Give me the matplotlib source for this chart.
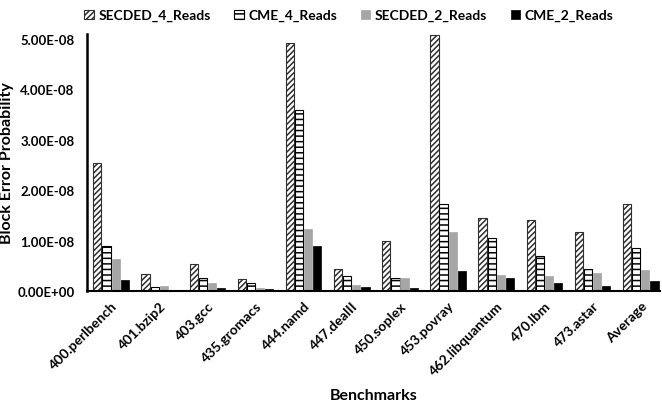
import matplotlib
matplotlib.use("Agg")
import matplotlib.pyplot as plt
import numpy as np
from matplotlib.ticker import FuncFormatter

plt.rcParams['font.family'] = ['Lato', 'DejaVu Sans']
plt.rcParams['font.weight'] = 'bold'
plt.rcParams['hatch.linewidth'] = 1.1

categories = ["400.perlbench", "401.bzip2", "403.gcc", "435.gromacs", "444.namd",
              "447.dealII", "450.soplex", "453.povray", "462.libquantum", "470.lbm",
              "473.astar", "Average"]
secded_4 = [2.54e-8, 0.34e-8, 0.53e-8, 0.24e-8, 4.92e-8, 0.44e-8, 0.99e-8, 5.08e-8, 1.45e-8, 1.41e-8, 1.17e-8, 1.73e-8]
cme_4    = [0.89e-8, 0.08e-8, 0.25e-8, 0.15e-8, 3.60e-8, 0.29e-8, 0.25e-8, 1.72e-8, 1.06e-8, 0.70e-8, 0.44e-8, 0.85e-8]
secded_2 = [0.63e-8, 0.10e-8, 0.15e-8, 0.05e-8, 1.23e-8, 0.12e-8, 0.25e-8, 1.17e-8, 0.32e-8, 0.30e-8, 0.36e-8, 0.42e-8]
cme_2    = [0.22e-8, 0.01e-8, 0.06e-8, 0.03e-8, 0.90e-8, 0.08e-8, 0.06e-8, 0.40e-8, 0.25e-8, 0.15e-8, 0.10e-8, 0.20e-8]
series_names = ["SECDED_4_Reads", "CME_4_Reads", "SECDED_2_Reads", "CME_2_Reads"]

fig = plt.figure(figsize=(6.62, 4.02), dpi=100)
ax = fig.add_axes([87/662, 1 - 292/402, 573/662, 257/402])

x = np.arange(len(categories))
w = 0.17
styles = [
    dict(facecolor='white', edgecolor='#303030', hatch='//////', linewidth=0.8),
    dict(facecolor='white', edgecolor='black', hatch='---', linewidth=0.8),
    dict(facecolor='#A6A6A6', edgecolor='#A6A6A6', linewidth=0.5),
    dict(facecolor='black', edgecolor='black', linewidth=0.5),
]
data = [secded_4, cme_4, secded_2, cme_2]
for i, (vals, st, name) in enumerate(zip(data, styles, series_names)):
    ax.bar(x + (i - 1.5) * (w + 0.02), vals, width=w, label=name, **st)

ax.set_xlim(-0.5, 11.4)
ax.set_ylim(0, 5.1e-8)
ax.set_yticks(np.arange(0, 5.01e-8, 1e-8))
ax.yaxis.set_major_formatter(FuncFormatter(lambda v, p: f"{v:.2E}" if v != 0 else "0.00E+00"))
ax.set_xticks(x)
ax.set_xticklabels(categories, rotation=45, ha='right', rotation_mode='anchor', fontsize=10, fontweight='bold')
ax.tick_params(axis='y', labelsize=9.5, length=0, pad=9)
ax.tick_params(axis='x', length=0, pad=6)
for lab in ax.get_yticklabels():
    lab.set_fontweight('bold')

for s in ['top', 'right']:
    ax.spines[s].set_visible(False)
ax.spines['left'].set_linewidth(1.8)
ax.spines['bottom'].set_linewidth(1.5)

ax.set_ylabel("Block Error Probability", fontsize=11.5, fontweight='bold')
ax.yaxis.set_label_coords(-0.128, 0.5)
ax.set_xlabel("Benchmarks", fontsize=11.5, fontweight='bold', labelpad=8)

ax.legend(loc='upper center', bbox_to_anchor=(0.457, 1.145), ncol=4, frameon=False,
          handlelength=0.7, handleheight=0.7, handletextpad=0.3, columnspacing=1.7,
          prop={'weight': 'bold', 'size': 10})

fig.savefig("out.png", dpi=100)
